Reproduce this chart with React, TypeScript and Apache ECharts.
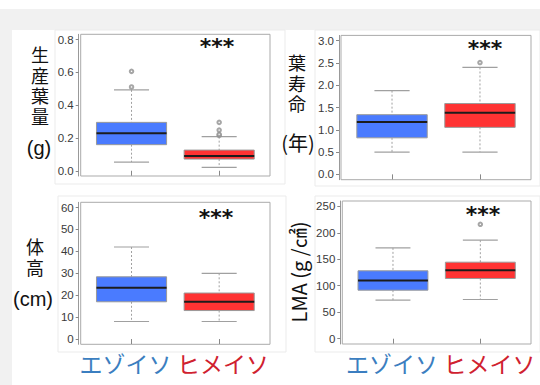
import React, { useEffect, useRef } from 'react';
import * as echarts from 'echarts';

// Species compared in every panel
const species = ['エゾイソ', 'ヒメイソ'];
const speciesColors = ['#3b7ec0', '#d0212f'];

// Five-number summaries: [lower whisker, Q1, median, Q3, upper whisker]
const leafProdEzo = [0.053, 0.159, 0.228, 0.295, 0.493];
const leafProdHime = [0.02, 0.071, 0.09, 0.126, 0.208];
const leafProdEzoOut = [0.511, 0.606];
const leafProdHimeOut = [0.215, 0.222, 0.248, 0.295];
const leafProdTicks = [0, 0.2, 0.4, 0.6, 0.8];

const lifespanEzo = [0.5, 0.82, 1.175, 1.34, 1.88];
const lifespanHime = [0.5, 1.055, 1.385, 1.59, 2.4];
const lifespanEzoOut: number[] = [];
const lifespanHimeOut = [2.51];
const lifespanTicks = [0, 0.5, 1, 1.5, 2, 2.5, 3];

const heightEzo = [8, 17, 23.4, 28.4, 42];
const heightHime = [8, 13, 17, 21, 30];
const heightEzoOut: number[] = [];
const heightHimeOut: number[] = [];
const heightTicks = [0, 10, 20, 30, 40, 50, 60];

const lmaEzo = [72.8, 91.6, 110, 128.2, 171.5];
const lmaHime = [74, 113.7, 129.4, 144.5, 186];
const lmaEzoOut: number[] = [];
const lmaHimeOut = [216];
const lmaTicks = [0, 50, 100, 150, 200, 250];

const boxFills = ['#4a7bff', '#ff3333'];

type Panel = {
  grid: { left: number; top: number; width: number; height: number };
  ticks: number[];
  decimals: number;
  boxes: number[][];
  outliers: number[][];
};

const panels: Panel[] = [
  {
    grid: { left: 80.7, top: 34.3, width: 189.3, height: 141.7 },
    ticks: leafProdTicks,
    decimals: 1,
    boxes: [leafProdEzo, leafProdHime],
    outliers: [leafProdEzoOut, leafProdHimeOut],
  },
  {
    grid: { left: 341, top: 35.4, width: 190, height: 144.3 },
    ticks: lifespanTicks,
    decimals: 1,
    boxes: [lifespanEzo, lifespanHime],
    outliers: [lifespanEzoOut, lifespanHimeOut],
  },
  {
    grid: { left: 80.7, top: 202.3, width: 189.3, height: 142 },
    ticks: heightTicks,
    decimals: 0,
    boxes: [heightEzo, heightHime],
    outliers: [heightEzoOut, heightHimeOut],
  },
  {
    grid: { left: 342.3, top: 201, width: 188.7, height: 143 },
    ticks: lmaTicks,
    decimals: 0,
    boxes: [lmaEzo, lmaHime],
    outliers: [lmaEzoOut, lmaHimeOut],
  },
];

const LATIN = "'Liberation Sans', Arial, sans-serif";
const CJK = "'Noto Sans CJK JP', 'Liberation Sans', sans-serif";
const STACK_FONT = "'Liberation Sans', 'Noto Sans CJK JP', sans-serif";

function renderBox(params: any, api: any) {
  const x = api.value(0);
  const low = api.value(1);
  const q1 = api.value(2);
  const med = api.value(3);
  const q3 = api.value(4);
  const high = api.value(5);
  const idx = params.dataIndex;
  const c = (xv: number, yv: number) => api.coord([xv, yv]);
  const half = 0.4;
  const cap = 0.2;
  const gray = '#a0a0a0';
  const pTop = c(x - half, q3);
  const pBot = c(x + half, q1);
  return {
    type: 'group',
    children: [
      {
        type: 'line',
        shape: { x1: c(x, high)[0], y1: c(x, high)[1], x2: c(x, q3)[0], y2: c(x, q3)[1] },
        style: { stroke: gray, lineWidth: 1, lineDash: [2, 2] },
      },
      {
        type: 'line',
        shape: { x1: c(x, q1)[0], y1: c(x, q1)[1], x2: c(x, low)[0], y2: c(x, low)[1] },
        style: { stroke: gray, lineWidth: 1, lineDash: [2, 2] },
      },
      {
        type: 'line',
        shape: { x1: c(x - cap, high)[0], y1: c(x, high)[1], x2: c(x + cap, high)[0], y2: c(x, high)[1] },
        style: { stroke: gray, lineWidth: 1.2 },
      },
      {
        type: 'line',
        shape: { x1: c(x - cap, low)[0], y1: c(x, low)[1], x2: c(x + cap, low)[0], y2: c(x, low)[1] },
        style: { stroke: gray, lineWidth: 1.2 },
      },
      {
        type: 'rect',
        shape: { x: pTop[0], y: pTop[1], width: pBot[0] - pTop[0], height: pBot[1] - pTop[1] },
        style: { fill: boxFills[idx], stroke: '#9a9a9a', lineWidth: 1 },
      },
      {
        type: 'line',
        shape: { x1: c(x - half, med)[0], y1: c(x, med)[1], x2: c(x + half, med)[0], y2: c(x, med)[1] },
        style: { stroke: '#1c1c1c', lineWidth: 2 },
      },
    ],
  };
}

function buildOption() {
  const grid: any[] = [];
  const xAxis: any[] = [];
  const yAxis: any[] = [];
  const series: any[] = [];

  panels.forEach((p, i) => {
    const lo = p.ticks[0];
    const hi = p.ticks[p.ticks.length - 1];
    const pad = (hi - lo) * 0.04;
    grid.push({ ...p.grid, show: true, borderColor: '#ababab', borderWidth: 1, backgroundColor: 'transparent' });
    xAxis.push({
      type: 'value',
      gridIndex: i,
      min: 0.42,
      max: 2.58,
      offset: 1,
      axisLine: { show: false },
      axisTick: { show: true, length: 5, customValues: [1, 2], lineStyle: { color: '#888' } },
      axisLabel: { show: false },
      splitLine: { show: false },
    });
    yAxis.push({
      type: 'value',
      gridIndex: i,
      min: lo - pad,
      max: hi + pad,
      offset: 2,
      axisLine: { show: true, lineStyle: { color: '#999' } },
      axisTick: { show: true, length: 3, customValues: p.ticks, lineStyle: { color: '#888' } },
      axisLabel: {
        show: true,
        customValues: p.ticks,
        margin: 5,
        color: '#3a3a3a',
        fontSize: 11.5,
        fontFamily: LATIN,
        formatter: (v: number) => v.toFixed(p.decimals),
      },
      splitLine: { show: false },
    });
    series.push({
      type: 'custom',
      xAxisIndex: i,
      yAxisIndex: i,
      renderItem: renderBox,
      data: p.boxes.map((b, k) => [k + 1, ...b]),
      z: 3,
    });
    const pts: number[][] = [];
    p.outliers.forEach((arr, k) => arr.forEach((v) => pts.push([k + 1, v])));
    series.push({
      type: 'scatter',
      xAxisIndex: i,
      yAxisIndex: i,
      symbol: 'emptyCircle',
      symbolSize: 3.5,
      itemStyle: { color: '#909090', borderColor: '#909090', borderWidth: 1 },
      data: pts,
      z: 4,
    });
  });

  const frames = [
    { x: 55, y: 30, width: 230, height: 154 },
    { x: 315, y: 30, width: 225, height: 156 },
    { x: 58, y: 196, width: 228, height: 156 },
    { x: 315, y: 196, width: 225, height: 156 },
  ];

  const graphic: any[] = [
    { type: 'rect', z: -20, shape: { x: 0, y: 9, width: 540, height: 21 }, style: { fill: '#f1f1f1' } },
    { type: 'rect', z: -20, shape: { x: 0, y: 9, width: 12, height: 376 }, style: { fill: '#f1f1f1' } },
    ...frames.map((f) => ({
      type: 'rect',
      z: -10,
      shape: f,
      style: { fill: '#fff', stroke: '#ebebeb', lineWidth: 1 },
    })),
  ];

  // Stacked vertical axis titles: one text per character
  const stack = (s: string, x: number, y0: number, step: number, size: number) =>
    s.split('').map((ch, k) => ({
      type: 'text',
      x,
      y: y0 + k * step,
      style: { text: ch, fill: '#111', font: `${size}px ${STACK_FONT}`, align: 'center', verticalAlign: 'middle' },
    }));
  const title = (text: string, x: number, y: number, family: string) => ({
    type: 'text',
    x,
    y,
    style: { text, fill: '#111', font: `20px ${family}`, align: 'center', verticalAlign: 'middle' },
  });
  graphic.push(
    ...stack('生産葉量', 40, 56, 20.5, 18),
    title('(g)', 39, 148, LATIN),
    ...stack('葉寿命', 297, 64, 20.5, 18),
    title('(年)', 298, 142, CJK),
    ...stack('体高', 35, 248, 20.5, 18),
    title('(cm)', 33, 299, LATIN),
    {
      type: 'text',
      x: 298,
      y: 272,
      rotation: Math.PI / 2,
      style: { text: 'LMA (g /㎠)', fill: '#111', font: `20px ${CJK}`, align: 'center', verticalAlign: 'middle' },
    }
  );

  const stars = [
    [217, 46],
    [485, 48],
    [216, 217],
    [483, 214],
  ];
  stars.forEach(([x, y]) =>
    graphic.push({
      type: 'text',
      x,
      y,
      style: {
        text: '***',
        fill: '#111',
        font: `bold 22px 'DejaVu Sans', sans-serif`,
        align: 'center',
        verticalAlign: 'middle',
      },
    })
  );

  const nameCenters = [
    [125.5, 223],
    [392, 489.5],
  ];
  nameCenters.forEach((cs) =>
    cs.forEach((x, k) =>
      graphic.push({
        type: 'text',
        x,
        y: 363,
        style: { text: species[k], fill: speciesColors[k], font: `23px ${CJK}`, align: 'center', verticalAlign: 'middle' },
      })
    )
  );

  return {
    animation: false,
    backgroundColor: '#ffffff',
    grid,
    xAxis,
    yAxis,
    series,
    graphic,
  };
}

export default function App() {
  const ref = useRef<HTMLDivElement>(null);
  useEffect(() => {
    if (!ref.current) return;
    const chart = echarts.init(ref.current, undefined, { renderer: 'svg' });
    chart.setOption(buildOption() as any);
    return () => chart.dispose();
  }, []);
  return <div ref={ref} style={{ position: 'absolute', left: 0, top: 0, width: 540, height: 385 }} />;
}
